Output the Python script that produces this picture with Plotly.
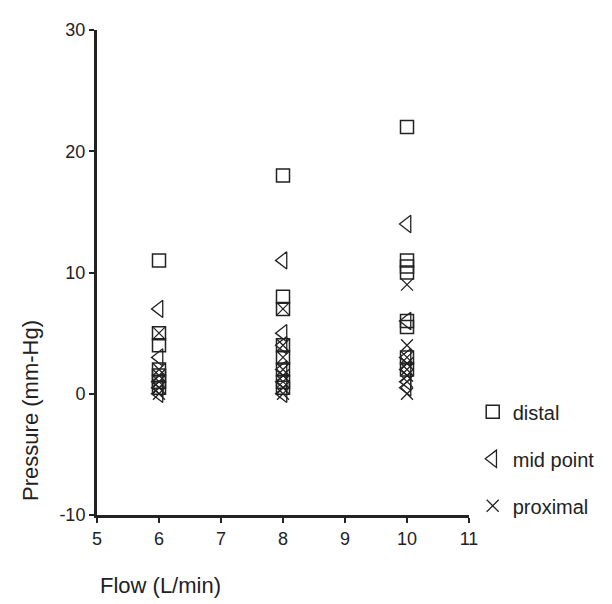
import plotly.graph_objects as go

# Data (Flow in L/min, Pressure in mm-Hg)
distal_x = [6, 6, 6, 6, 6, 6, 6,
            8, 8, 8, 8, 8, 8, 8, 8,
            10, 10, 10, 10, 10, 10, 10, 10]
distal_y = [11, 5, 4, 2, 1.5, 1, 0.5,
            18, 8, 7, 4, 3, 2, 1, 0.5,
            22, 11, 10.5, 10, 6, 5.5, 3, 2]

mid_x = [6, 6, 6, 6, 6,
         8, 8, 8, 8, 8, 8,
         10, 10, 10, 10, 10, 10]
mid_y = [7, 3, 1, 0.5, 0,
         11, 5, 4, 2, 1, 0,
         14, 6, 3, 2, 1, 0.5]

prox_x = [6, 6, 6, 6, 6, 6,
          8, 8, 8, 8, 8, 8, 8, 8,
          10, 10, 10, 10, 10, 10, 10, 10]
prox_y = [5, 2, 1.5, 1, 0.5, 0,
          7, 4, 3, 2, 1.5, 1, 0.5, 0,
          9, 4, 3, 2.5, 2, 1.5, 1, 0]

x_ticks = [5, 6, 7, 8, 9, 10, 11]
y_ticks = [-10, 0, 10, 20, 30]

INK = "#222222"
FONT = "Liberation Sans, Arial, sans-serif"

fig = go.Figure()
fig.add_trace(go.Scatter(
    x=distal_x, y=distal_y, mode="markers", name="distal", legendgroup="a",
    marker=dict(symbol="square-open", size=13, color=INK, line=dict(width=1.5, color=INK)),
))
fig.add_trace(go.Scatter(
    x=mid_x, y=mid_y, mode="markers", name="mid point", legendgroup="b",
    marker=dict(symbol="triangle-left-open", size=15, color=INK, line=dict(width=1.3, color=INK)),
))
fig.add_trace(go.Scatter(
    x=prox_x, y=prox_y, mode="markers", name="proximal", legendgroup="c",
    marker=dict(symbol="x-thin-open", size=12, color=INK, line=dict(width=1.3, color=INK)),
))

fig.update_layout(
    width=604, height=596,
    margin=dict(l=89, r=131, t=14, b=89),
    paper_bgcolor="white", plot_bgcolor="white",
    font=dict(family=FONT, color=INK, size=18),
    showlegend=True,
    legend=dict(
        x=1.01, y=0.253, xanchor="left", yanchor="top",
        font=dict(size=20, color=INK), tracegroupgap=18,
        bgcolor="rgba(0,0,0,0)",
    ),
    xaxis=dict(
        range=[5, 11], tickvals=x_ticks, ticktext=[str(v) for v in x_ticks],
        showgrid=False, zeroline=False, showline=True, linewidth=3, linecolor=INK,
        ticks="outside", ticklen=5, tickwidth=2, tickcolor=INK,
        tickfont=dict(size=18, color=INK),
    ),
    yaxis=dict(
        range=[-10, 30], tickvals=y_ticks, ticktext=[str(v) for v in y_ticks],
        showgrid=False, zeroline=False, showline=True, linewidth=3, linecolor=INK,
        ticks="outside", ticklen=5, tickwidth=2, tickcolor=INK,
        tickfont=dict(size=18, color=INK),
    ),
    annotations=[
        dict(text="Flow (L/min)", xref="paper", yref="paper", x=0.003, y=-0.146,
             xanchor="left", yanchor="middle", showarrow=False, font=dict(size=22, color=INK)),
        dict(text="Pressure (mm-Hg)", xref="paper", yref="paper", x=-0.177, y=0.215,
             xanchor="center", yanchor="middle", textangle=-90, showarrow=False,
             font=dict(size=22, color=INK)),
    ],
)

fig.write_html("out.html")
